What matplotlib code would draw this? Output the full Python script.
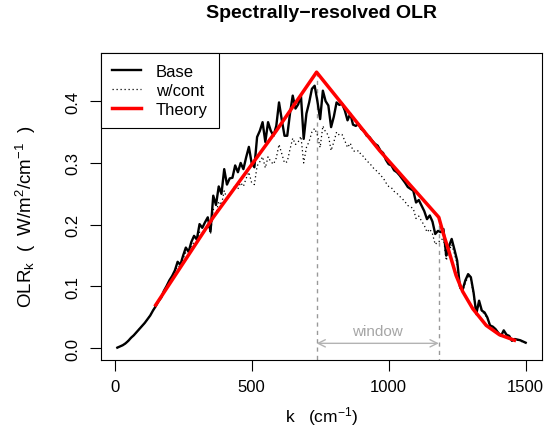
import numpy as np
import matplotlib
matplotlib.use("Agg")
import matplotlib.pyplot as plt

plt.rcParams['font.family'] = ['Liberation Sans', 'DejaVu Sans']
plt.rcParams['mathtext.fontset'] = 'custom'
plt.rcParams['mathtext.rm'] = 'Liberation Sans'
plt.rcParams['mathtext.it'] = 'Liberation Sans'
plt.rcParams['mathtext.default'] = 'regular'

# wavenumber grid (cm^-1)
k = np.arange(10, 1501, 10)

base = [0.001, 0.003, 0.005, 0.008, 0.012, 0.017, 0.021, 0.026, 0.031, 0.036,
        0.041, 0.047, 0.053, 0.061, 0.068, 0.076, 0.082, 0.093, 0.101, 0.110,
        0.117, 0.126, 0.140, 0.135, 0.150, 0.163, 0.156, 0.172, 0.182, 0.176,
        0.201, 0.195, 0.204, 0.212, 0.189, 0.247, 0.232, 0.262, 0.250, 0.290,
        0.265, 0.275, 0.276, 0.296, 0.285, 0.300, 0.290, 0.309, 0.326, 0.300,
        0.293, 0.342, 0.352, 0.366, 0.334, 0.366, 0.352, 0.344, 0.360, 0.398,
        0.370, 0.344, 0.344, 0.380, 0.409, 0.388, 0.395, 0.409, 0.339, 0.380,
        0.398, 0.420, 0.425, 0.400, 0.371, 0.417, 0.400, 0.393, 0.358, 0.375,
        0.398, 0.394, 0.396, 0.385, 0.369, 0.380, 0.362, 0.360, 0.363, 0.355,
        0.352, 0.344, 0.342, 0.336, 0.331, 0.328, 0.320, 0.316, 0.305, 0.298,
        0.296, 0.288, 0.285, 0.280, 0.274, 0.268, 0.261, 0.258, 0.255, 0.236,
        0.240, 0.231, 0.222, 0.209, 0.215, 0.205, 0.185, 0.190, 0.188, 0.193,
        0.150, 0.165, 0.177, 0.160, 0.142, 0.100, 0.095, 0.110, 0.120, 0.115,
        0.090, 0.056, 0.077, 0.061, 0.058, 0.050, 0.037, 0.035, 0.031, 0.025,
        0.020, 0.029, 0.022, 0.020, 0.012, 0.015, 0.014, 0.013, 0.011, 0.009]

wcont = [0.001, 0.003, 0.005, 0.008, 0.012, 0.017, 0.021, 0.026, 0.031, 0.036,
         0.041, 0.047, 0.053, 0.061, 0.068, 0.076, 0.082, 0.092, 0.100, 0.108,
         0.115, 0.123, 0.133, 0.132, 0.145, 0.155, 0.152, 0.165, 0.172, 0.170,
         0.188, 0.186, 0.193, 0.200, 0.185, 0.225, 0.218, 0.238, 0.232, 0.255,
         0.242, 0.250, 0.252, 0.265, 0.258, 0.268, 0.262, 0.275, 0.285, 0.268,
         0.265, 0.295, 0.302, 0.310, 0.292, 0.310, 0.302, 0.298, 0.308, 0.330,
         0.315, 0.300, 0.302, 0.322, 0.340, 0.330, 0.334, 0.343, 0.300, 0.325,
         0.335, 0.350, 0.356, 0.345, 0.325, 0.360, 0.350, 0.345, 0.320, 0.334,
         0.350, 0.345, 0.346, 0.336, 0.325, 0.332, 0.320, 0.318, 0.320, 0.313,
         0.310, 0.303, 0.300, 0.294, 0.289, 0.286, 0.280, 0.276, 0.268, 0.262,
         0.260, 0.254, 0.251, 0.246, 0.242, 0.237, 0.231, 0.229, 0.226, 0.210,
         0.214, 0.206, 0.199, 0.188, 0.193, 0.185, 0.168, 0.173, 0.173, 0.180,
         0.142, 0.157, 0.168, 0.153, 0.136, 0.097, 0.092, 0.106, 0.116, 0.111,
         0.087, 0.054, 0.074, 0.059, 0.056, 0.048, 0.036, 0.034, 0.030, 0.024,
         0.019, 0.028, 0.021, 0.019, 0.012, 0.014, 0.013, 0.012, 0.010, 0.009]

theory_k = [150, 360, 590, 737, 967, 1183, 1200, 1220, 1246, 1270, 1307, 1356, 1404, 1459]
theory = [0.070, 0.212, 0.352, 0.447, 0.320, 0.212, 0.185, 0.157, 0.118, 0.092, 0.064, 0.037, 0.022, 0.013]

window = [737, 1183]
window_top = [0.447, 0.212]

W, H = 558, 435
fig = plt.figure(figsize=(W/100, H/100), dpi=100)
ax = fig.add_axes([101/W, 1-361/H, 441/W, 307/H])

for wk, wt in zip(window, window_top):
    ax.plot([wk, wk], [wt, -0.05], color='0.6', lw=1, ls=(0, (3, 3)))

ax.plot(k, base, color='black', lw=1.7, label='Base')
ax.plot(k, wcont, color='black', lw=0.9, ls=(0, (1, 2.2)), label='w/cont')
ax.plot(theory_k, theory, color='red', lw=2.5, label='Theory')

ax.annotate('', xy=(window[0], 0.008), xytext=(window[1], 0.008),
            arrowprops=dict(arrowstyle='<->', color='0.7', lw=1,
                            mutation_scale=13, shrinkA=0, shrinkB=0))
ax.text(np.mean(window), 0.0285, 'window', color='0.65', fontsize=11,
        ha='center', va='center')

ax.set_xlim(-49.6, 1559.6)
ax.set_ylim(-0.019, 0.478)
ax.set_xticks([0, 500, 1000, 1500])
ax.set_yticks([0.0, 0.1, 0.2, 0.3, 0.4])
ax.set_yticklabels(['0.0', '0.1', '0.2', '0.3', '0.4'], rotation=90, va='center')
ax.tick_params(length=8, width=0.8, labelsize=12, pad=5.5)
ax.tick_params(axis='y', pad=7)
for s in ax.spines.values():
    s.set_linewidth(0.8)

fig.text(321.5/W, 1-422/H, r'k   (cm$^{-1}$)', fontsize=12.5,
         ha='center', va='baseline')
fig.text(38/W, 1-217/H, r'OLR$_k$  (  W/m$^2$/cm$^{-1}$  )', fontsize=13.5,
         rotation=90, ha='right', va='center')
fig.text(321.5/W, 1-18/H, 'Spectrally\u2212resolved OLR', fontsize=14,
         fontweight='bold', ha='center', va='baseline')

leg = ax.legend(loc='upper left', bbox_to_anchor=(0, 1), borderaxespad=0,
                fontsize=12, handlelength=1.75, handletextpad=0.9,
                labelspacing=0.24, fancybox=False, edgecolor='black',
                framealpha=1, borderpad=0.65)
leg.get_frame().set_linewidth(0.8)

fig.savefig('out.png', dpi=100)
